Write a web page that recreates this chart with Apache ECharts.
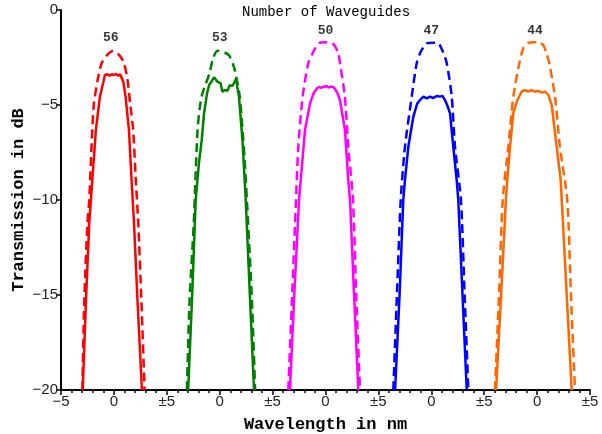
<!DOCTYPE html>
<html>
	<head>
		<meta charset="utf-8">
		<title>waveguides</title>
		<script src="https://cdn.jsdelivr.net/npm/echarts@6/dist/echarts.min.js"></script>
	</head>
	<body style="margin: 0;">
		<div id="box" style="width: 602px;height: 434px;"></div>
		<script>

			var mCharts = echarts.init(document.querySelector('#box'))

			// number of waveguides per panel, panel centre on the shared axis
			var counts = [56, 53, 50, 47, 44]
			var offsets = [0, 10, 20, 30, 40]
			var colors = ['#ff0000', '#008000', '#ff00ff', '#0000ff', '#ff6600']
			var labelX = [-0.3, 0, 0, 0, -0.2]
			var labelY = [-1.47, -1.47, -1.1, -1.1, -1.1]
			var xTickLabels = ['\u22125', '0', '\u00b15', '0', '\u00b15', '0', '\u00b15', '0', '\u00b15', '0', '\u00b15']

			// dashed curves [wavelength, dB] (local -5..5)
			var dashed56 = [[-2.98,-20],[-2.8,-15.3],[-2.5,-11.2],[-2.33,-10],[-2.1,-7],[-1.9,-5],[-1.54,-3.7],[-1.16,-2.8],[-0.6,-2.35],[-0.1,-2.16],[0.55,-2.4],[0.95,-2.8],[1.29,-3.68],[1.55,-5],[1.82,-6.3],[2.07,-8.95],[2.3,-11.2],[2.6,-15.3],[2.9,-20]]
			var dashed53 = [[-3.1,-20],[-2.85,-15.3],[-2.45,-11.2],[-2.3,-9],[-2.1,-6.4],[-1.9,-5.2],[-1.63,-4.38],[-1.0,-3.4],[-0.6,-2.5],[-0.2,-2.14],[0.5,-2.25],[0.9,-2.4],[1.35,-3.0],[1.6,-3.6],[1.88,-4.5],[2.12,-6],[2.37,-8],[2.57,-10],[2.85,-13],[3.05,-15.3],[3.35,-20]]
			var dashed50 = [[-3.52,-20],[-3.15,-15],[-2.79,-10],[-2.57,-7.2],[-2.16,-4.56],[-1.63,-2.8],[-1.3,-2.37],[-0.9,-1.95],[-0.52,-1.72],[0.1,-1.7],[0.74,-1.79],[1.21,-2.28],[1.37,-2.8],[1.83,-4.56],[2.15,-7.2],[2.6,-10],[2.9,-15],[3.26,-20]]
			var dashed47 = [[-3.59,-20],[-3.25,-15],[-2.89,-10],[-2.49,-7.2],[-1.85,-4.56],[-1.38,-2.8],[-1.0,-2.2],[-0.43,-1.75],[0.2,-1.72],[0.66,-1.75],[1.1,-2.2],[1.46,-2.8],[1.93,-4.56],[2.24,-7.2],[2.8,-10],[3.15,-15],[3.5,-20]]
			var dashed44 = [[-3.98,-20],[-3.6,-15],[-3.25,-10],[-2.72,-7.2],[-2.25,-4.56],[-1.68,-2.8],[-1.3,-2.0],[-0.9,-1.75],[-0.4,-1.7],[0.2,-1.72],[0.59,-1.85],[0.9,-2.3],[1.15,-2.8],[1.69,-4.56],[2.16,-7.2],[2.85,-10],[3.2,-15],[3.58,-20]]

			// measured (solid) curves
			var solid56 = [[-2.95,-20],[-2.64,-15.3],[-2.33,-11.2],[-2.04,-8.95],[-1.7,-6.3],[-1.32,-4.56],[-1.0,-3.8],[-0.85,-3.42],[-0.6,-3.38],[-0.4,-3.46],[-0.2,-3.38],[0,-3.42],[0.2,-3.36],[0.4,-3.46],[0.6,-3.38],[0.75,-3.45],[0.9,-3.8],[1.1,-4.56],[1.42,-6.3],[1.67,-8.95],[1.9,-11.2],[2.23,-15.3],[2.65,-20]]
			var solid53 = [[-2.98,-20],[-2.6,-15],[-2.27,-10],[-1.95,-8],[-1.7,-6.85],[-1.48,-5.44],[-1.2,-4.4],[-1.0,-3.95],[-0.75,-3.75],[-0.54,-3.54],[-0.22,-3.77],[0.09,-3.86],[0.25,-4.3],[0.47,-4.21],[0.73,-4.25],[0.97,-3.95],[1.2,-4.0],[1.42,-3.77],[1.57,-3.6],[1.67,-4.12],[1.82,-4.56],[2.15,-6.85],[2.46,-10],[2.85,-15],[3.24,-20]]
			var solid50 = [[-3.36,-20],[-2.95,-15],[-2.5,-10],[-2.34,-8.95],[-1.94,-6.32],[-1.46,-4.91],[-1.1,-4.35],[-0.8,-4.12],[-0.6,-4.05],[-0.4,-4.1],[-0.2,-4.05],[0.1,-4.0],[0.3,-4.08],[0.5,-4.03],[0.75,-4.05],[0.95,-4.2],[1.15,-4.4],[1.37,-4.75],[1.84,-6.32],[2.15,-8.95],[2.32,-10],[2.7,-15],[3.1,-20]]
			var solid47 = [[-3.42,-20],[-3.0,-15],[-2.65,-10],[-2.49,-8.95],[-2.17,-7.2],[-1.7,-5.62],[-1.35,-4.95],[-1.07,-4.74],[-0.75,-4.56],[-0.43,-4.65],[-0.12,-4.56],[0.19,-4.63],[0.5,-4.53],[0.82,-4.56],[1.07,-4.53],[1.29,-4.74],[1.5,-5.0],[1.77,-5.44],[2.08,-7.2],[2.4,-8.95],[2.55,-10],[2.95,-15],[3.35,-20]]
			var solid44 = [[-3.88,-20],[-3.4,-15],[-2.95,-10],[-2.82,-8.95],[-2.56,-7.2],[-2.25,-5.44],[-1.9,-4.8],[-1.62,-4.47],[-1.46,-4.3],[-1.14,-4.21],[-0.83,-4.3],[-0.51,-4.21],[-0.2,-4.3],[0.12,-4.26],[0.43,-4.35],[0.75,-4.3],[1.06,-4.47],[1.38,-5.0],[1.85,-7.2],[2.23,-8.95],[2.33,-10],[2.8,-15],[3.27,-20]]

			var dashedAll = [dashed56, dashed53, dashed50, dashed47, dashed44]
			var solidAll = [solid56, solid53, solid50, solid47, solid44]

			function shift(arr, dx) {
				return arr.map(function (p) { return [p[0] + dx, p[1]] })
			}

			var series = []
			for (var i = 0; i < counts.length; i++) {
				series.push({
					type: 'line',
					data: shift(dashedAll[i], offsets[i]),
					showSymbol: false,
					smooth: 0.25,
					lineStyle: { color: colors[i], width: 2.5, type: [9, 5] }
				})
				series.push({
					type: 'line',
					data: shift(solidAll[i], offsets[i]),
					showSymbol: false,
					lineStyle: { color: colors[i], width: 2.5 }
				})
			}
			// waveguide count labels above each peak
			series.push({
				type: 'scatter',
				symbolSize: 0,
				data: counts.map(function (c, i) { return { value: [offsets[i] + labelX[i], labelY[i]], name: String(c) } }),
				label: {
					show: true,
					position: 'inside',
					formatter: '{b}',
					color: '#000',
					fontFamily: 'Liberation Mono',
					fontWeight: 'bold',
					fontSize: 13
				}
			})

			var option = {
				animation: false,
				title: {
					text: 'Number of Waveguides',
					left: 237,
					top: 0,
					textStyle: { fontFamily: 'Liberation Mono', fontWeight: 'normal', fontSize: 14, color: '#000' }
				},
				grid: { left: 61, right: 12, top: 10, bottom: 44, containLabel: false, outerBoundsMode: 'none' },
				xAxis: {
					type: 'value',
					min: -5,
					max: 45,
					interval: 5,
					name: 'Wavelength in nm',
					nameLocation: 'middle',
					nameGap: 26,
					nameTextStyle: { fontFamily: 'Liberation Mono', fontWeight: 'bold', fontSize: 17, color: '#000' },
					axisLine: { onZero: false, lineStyle: { color: '#000', width: 2 } },
					axisTick: { length: 5, lineStyle: { color: '#000', width: 1.5 } },
					minorTick: { show: true, splitNumber: 5, length: 3, lineStyle: { color: '#000', width: 1.5 } },
					splitLine: { show: false },
					axisLabel: {
						margin: 4,
						fontFamily: 'Liberation Sans',
						fontSize: 15,
						color: '#222',
						formatter: function (v) { return xTickLabels[Math.round((v + 5) / 5)] }
					}
				},
				yAxis: {
					type: 'value',
					min: -20,
					max: 0,
					interval: 5,
					name: 'Transmission in dB',
					nameLocation: 'middle',
					nameGap: 34,
					nameMoveOverlap: false,
					nameTextStyle: { fontFamily: 'Liberation Mono', fontWeight: 'bold', fontSize: 17, color: '#000' },
					axisLine: { show: true, onZero: false, lineStyle: { color: '#000', width: 2 } },
					axisTick: { show: true, length: 5, lineStyle: { color: '#000', width: 1.5 } },
					splitLine: { show: false },
					axisLabel: {
						margin: 3,
						fontFamily: 'Liberation Sans',
						fontSize: 15,
						color: '#222',
						formatter: function (v) { return String(v).replace('-', '\u2212') }
					}
				},
				series: series
			}
			mCharts.setOption(option)

		</script>
	</body>
</html>
